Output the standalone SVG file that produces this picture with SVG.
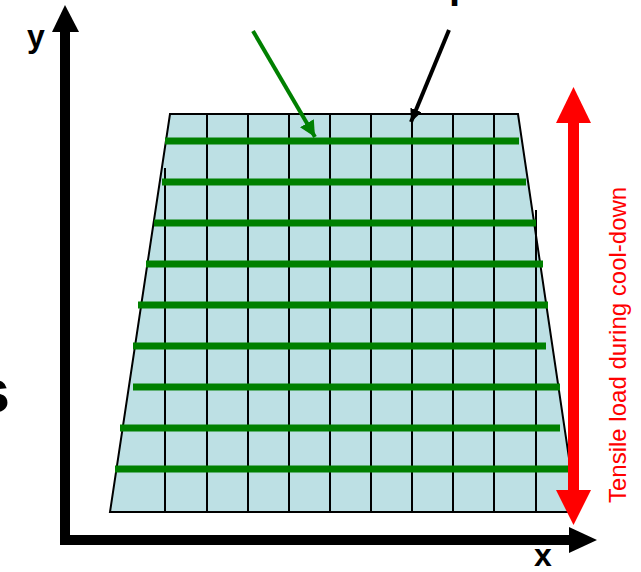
<svg xmlns="http://www.w3.org/2000/svg" width="641" height="572" viewBox="0 0 641 572">
<style>
.grid{stroke:#000;stroke-width:2;fill:none}
.bar{stroke:#008000;stroke-width:7;fill:none}
.lbl{font-family:"Liberation Sans",Arial,sans-serif;font-weight:bold;fill:#000}
</style>
<defs>
<marker id="ah-green" markerUnits="userSpaceOnUse" markerWidth="18" markerHeight="16" refX="16" refY="8" orient="auto"><path d="M0,0 L16,8 L0,16 Z" fill="#008000"/></marker>
<marker id="ah-black" markerUnits="userSpaceOnUse" markerWidth="14" markerHeight="12" refX="13" refY="6" orient="auto"><path d="M0,0 L13,6 L0,12 Z" fill="#000"/></marker>
</defs>
<rect width="641" height="572" fill="#fff"/>
<g id="plate">
<polygon points="170,114 518,114 577,512 110,512" fill="#bde0e4"/>
<g class="grid">
<line x1="207" y1="114" x2="207" y2="512"/>
<line x1="248" y1="114" x2="248" y2="512"/>
<line x1="289" y1="114" x2="289" y2="512"/>
<line x1="330" y1="114" x2="330" y2="512"/>
<line x1="371" y1="114" x2="371" y2="512"/>
<line x1="412" y1="114" x2="412" y2="512"/>
<line x1="453" y1="114" x2="453" y2="512"/>
<line x1="494" y1="114" x2="494" y2="512"/>
<line x1="165" y1="168" x2="165" y2="512"/>
<line x1="536" y1="210" x2="536" y2="512"/>
</g>
<polygon points="170,114 518,114 577,512 110,512" class="grid"/>
<g class="bar">
<line x1="165" y1="141" x2="519" y2="141"/>
<line x1="162" y1="182" x2="526" y2="182"/>
<line x1="154" y1="223" x2="536" y2="223"/>
<line x1="146" y1="264" x2="543" y2="264"/>
<line x1="138" y1="305" x2="548" y2="305"/>
<line x1="133" y1="346" x2="546" y2="346"/>
<line x1="133" y1="387" x2="560" y2="387"/>
<line x1="120" y1="428" x2="560" y2="428"/>
<line x1="115" y1="469" x2="570" y2="469"/>
</g>
</g>
<g id="axes">
<polyline points="65,32 65,540 569,540" fill="none" stroke="#000" stroke-width="10"/>
<polygon points="52,32 79,32 65,5" fill="#000"/>
<polygon points="569,527 569,553 597,540" fill="#000"/>
<text class="lbl" x="36" y="47" font-size="32" text-anchor="middle">y</text>
<text class="lbl" x="543" y="566" font-size="32" text-anchor="middle">x</text>
</g>
<g id="load">
<rect x="568" y="122" width="11" height="369" fill="#f00"/>
<polygon points="556,123 591,123 573.5,87" fill="#f00"/>
<polygon points="556,490 591,490 573.5,525" fill="#f00"/>
<text transform="translate(626,503) rotate(-90)" font-family="Liberation Sans,Arial,sans-serif" font-size="24" fill="#f00">Tensile load during cool-down</text>
</g>
<g id="connectors">
<line x1="253" y1="31" x2="315" y2="137" stroke="#008000" stroke-width="4" marker-end="url(#ah-green)"/>
<line x1="449" y1="30" x2="411" y2="122" stroke="#000" stroke-width="4" marker-end="url(#ah-black)"/>
</g>
<g id="cut-labels">
<text class="lbl" x="10" y="412" font-size="62" text-anchor="end">s</text>
<text class="lbl" x="449" y="-2" font-size="40">p</text>
</g>
</svg>
